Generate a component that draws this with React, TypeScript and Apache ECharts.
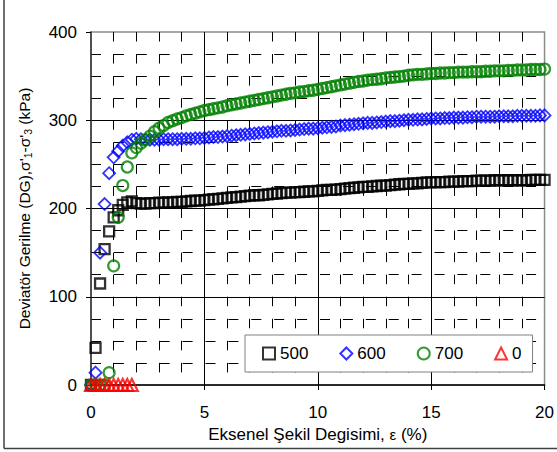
import React, { useEffect, useRef } from "react";
import * as echarts from "echarts";

// Axial strain (%) for the consolidated tests
const strain = [
  0.0, 0.2, 0.4, 0.6, 0.8, 1.0, 1.2, 1.4, 1.6, 1.8,
  2.0, 2.2, 2.4, 2.6, 2.8, 3.0, 3.2, 3.4, 3.6, 3.8,
  4.0, 4.2, 4.4, 4.6, 4.8, 5.0, 5.2, 5.4, 5.6, 5.8,
  6.0, 6.2, 6.4, 6.6, 6.8, 7.0, 7.2, 7.4, 7.6, 7.8,
  8.0, 8.2, 8.4, 8.6, 8.8, 9.0, 9.2, 9.4, 9.6, 9.8,
  10.0, 10.2, 10.4, 10.6, 10.8, 11.0, 11.2, 11.4, 11.6, 11.8,
  12.0, 12.2, 12.4, 12.6, 12.8, 13.0, 13.2, 13.4, 13.6, 13.8,
  14.0, 14.2, 14.4, 14.6, 14.8, 15.0, 15.2, 15.4, 15.6, 15.8,
  16.0, 16.2, 16.4, 16.6, 16.8, 17.0, 17.2, 17.4, 17.6, 17.8,
  18.0, 18.2, 18.4, 18.6, 18.8, 19.0, 19.2, 19.4, 19.6, 19.8,
  20.0,
];

// Deviator stress (kPa), series "500"
const dev500 = [
  0, 42, 115, 154, 174, 190, 198, 204, 207, 208,
  206, 205.5, 205.5, 206, 206, 206.5, 206.5, 207, 207, 207.5,
  207.5, 208, 208.5, 209, 209, 209.5, 210, 210.5, 211, 211.5,
  212, 212.5, 213, 213.5, 214, 214.5, 215, 215, 215.5, 216,
  216.5, 217, 217.5, 218, 218, 218.5, 218.5, 219, 219.5, 219.5,
  220, 220.5, 221, 221, 221.5, 222, 222.5, 223, 223.5, 224,
  224.5, 224.5, 225, 225.5, 226, 226, 226.5, 227, 227.5, 228,
  228, 228.5, 228.5, 229, 229.5, 229.5, 230, 230, 230, 230.5,
  230.5, 230.5, 231, 231, 231, 231.5, 231.5, 231.5, 231.5, 232,
  232, 232, 232, 232, 232, 232, 232, 232.5, 232.5, 232.5,
  232.5,
];

// series "600"
const dev600 = [
  0, 14, 150, 205, 240, 258, 265, 271, 275, 278,
  279, 278.5, 278, 278, 278, 278, 278.5, 278.5, 278.5, 278.5,
  279, 279, 279, 279.5, 279.5, 280, 280.5, 281, 281, 281.5,
  282, 282.5, 283, 283.5, 284, 284.5, 285, 285.5, 286, 286.5,
  287, 287.5, 288, 288, 288.5, 289, 289.5, 290, 290.5, 290.5,
  291, 291.5, 292, 292.5, 293, 294, 294.5, 295, 295.5, 296,
  296.5, 297, 297, 297.5, 298, 298.5, 299, 299, 299.5, 300,
  300.5, 300.5, 301, 301, 301.5, 302, 302, 302, 302.5, 302.5,
  303, 303, 303, 303.5, 303.5, 304, 304, 304, 304, 304,
  304.5, 304.5, 304.5, 304.5, 305, 305, 305, 305, 305, 305.5,
  305.5,
];

// series "700"
const dev700 = [
  0, 0, 0, 0, 14, 135, 190, 226, 247, 263,
  269, 274, 278, 282, 287, 291, 294, 297.5, 299.5, 301.5,
  303, 305, 306.5, 308, 309.5, 311, 312, 313, 314, 315,
  316.5, 317.5, 318.5, 319.5, 320.5, 321.5, 322.5, 323.5, 324.5, 325.5,
  326.5, 327.5, 328.5, 329.5, 330.5, 331, 332, 332.5, 333.5, 334,
  335, 336, 337, 338, 339, 340, 341, 342, 343, 344,
  344.5, 345.5, 346, 346.5, 347, 348, 348.5, 349, 349.5, 350,
  351, 351.5, 352, 352, 352.5, 353, 353, 353.5, 353.5, 354,
  354, 354.5, 354.5, 354.5, 355, 355, 355, 355.5, 355.5, 356,
  356, 356, 356.5, 356.5, 357, 357, 357, 357.5, 357.5, 357.5,
  358,
];

// series "0"
const strain0 = [0.0, 0.2, 0.4, 0.6, 0.8, 1.0, 1.2, 1.4, 1.6, 1.8];
const dev0 = [0, 0, 0, 0, 0, 0, 0, 0, 0, 0];

const seriesNames = ["500", "600", "700", "0"];

const FONT = "'Liberation Sans', Arial, sans-serif";

function pairs(xs: number[], ys: number[]) {
  return xs.map((x, i) => [x, ys[i]]);
}

export default function App() {
  const ref = useRef<HTMLDivElement>(null);

  useEffect(() => {
    const chart = echarts.init(ref.current!, null, { renderer: "svg" });
    const hollow = "rgba(0,0,0,0)";
    const option: any = {
      animation: false,
      backgroundColor: "#ffffff",
      grid: {
        left: 91,
        top: 32,
        right: 8,
        bottom: 67,
        show: true,
        borderColor: "#8c8c8c",
        borderWidth: 1.5,
        backgroundColor: "transparent",
      },
      graphic: [
        {
          type: "line",
          shape: { x1: 4, y1: 0, x2: 4, y2: 448.5 },
          style: { stroke: "#404040", lineWidth: 1.5 },
          silent: true,
        },
        {
          type: "line",
          shape: { x1: 4, y1: 448.5, x2: 557, y2: 448.5 },
          style: { stroke: "#404040", lineWidth: 1.5 },
          silent: true,
        },
      ],
      xAxis: {
        type: "value",
        min: 0,
        max: 20,
        interval: 5,
        name: "{a|Eksenel Şekil Degisimi, }{e|ε}{a| (%)}",
        nameLocation: "middle",
        nameGap: 26,
        nameTextStyle: {
          rich: {
            a: { fontSize: 17, fontFamily: FONT, color: "#000" },
            e: { fontSize: 15, fontFamily: FONT, color: "#000" },
          },
        },
        axisLine: { show: true, onZero: false, lineStyle: { color: "#000", width: 1.5 } },
        axisTick: { show: true, length: 5, lineStyle: { color: "#000", width: 1 } },
        axisLabel: { margin: 19, fontSize: 17, color: "#000", fontFamily: FONT },
        splitLine: {
          show: true,
          showMinLine: false,
          showMaxLine: false,
          lineStyle: { color: "#000", width: 1 },
        },
        minorTick: { show: false, splitNumber: 5 },
        minorSplitLine: {
          show: true,
          lineStyle: { color: "#000", width: 1, type: [9.5, 12.56], dashOffset: 0 },
        },
      },
      yAxis: {
        type: "value",
        min: 0,
        max: 400,
        interval: 100,
        name: "{a|Deviatör Gerilme (DG),σ'}{s|1}{a|-σ'}{s|3}{a| (kPa)}",
        nameLocation: "middle",
        nameGap: 58,
        nameRotate: 90,
        nameTextStyle: {
          rich: {
            a: { fontSize: 15.5, fontFamily: FONT, color: "#000", lineHeight: 18 },
            s: { fontSize: 10.5, fontFamily: FONT, color: "#000", lineHeight: 18, verticalAlign: "bottom" },
          },
        },
        axisLine: { show: true, onZero: false, lineStyle: { color: "#333", width: 1.5 } },
        axisTick: { show: true, length: 5, lineStyle: { color: "#000", width: 1 } },
        axisLabel: { margin: 14, fontSize: 17, color: "#000", fontFamily: FONT },
        splitLine: {
          show: true,
          showMinLine: false,
          showMaxLine: false,
          lineStyle: { color: "#000", width: 1 },
        },
        minorTick: { show: false, splitNumber: 4 },
        minorSplitLine: {
          show: true,
          lineStyle: { color: "#000", width: 1, type: [10, 12.9], dashOffset: 0 },
        },
      },
      legend: {
        data: seriesNames,
        left: 245,
        top: 335,
        orient: "horizontal",
        padding: [10, 11, 10, 17],
        itemGap: 31,
        itemWidth: 12,
        itemHeight: 12,
        selectedMode: false,
        borderColor: "#808080",
        borderWidth: 1,
        backgroundColor: "#ffffff",
        textStyle: { fontSize: 17, fontFamily: FONT, color: "#000" },
      },
      series: [
        {
          name: seriesNames[0],
          type: "scatter",
          symbol: "rect",
          symbolSize: 10,
          data: pairs(strain, dev500),
          itemStyle: { color: hollow, borderColor: "#000000", borderWidth: 2.3 },
        },
        {
          name: seriesNames[1],
          type: "scatter",
          symbol: "diamond",
          symbolSize: 12,
          data: pairs(strain, dev600),
          itemStyle: { color: hollow, borderColor: "#0000ff", borderWidth: 1.8 },
        },
        {
          name: seriesNames[2],
          type: "scatter",
          symbol: "circle",
          symbolSize: 11,
          data: pairs(strain, dev700),
          itemStyle: { color: hollow, borderColor: "#008000", borderWidth: 2.2 },
        },
        {
          name: seriesNames[3],
          type: "scatter",
          symbol: "triangle",
          symbolSize: 12,
          data: pairs(strain0, dev0),
          itemStyle: { color: hollow, borderColor: "#ff0000", borderWidth: 2.2 },
        },
      ],
    };
    chart.setOption(option);
    return () => chart.dispose();
  }, []);

  return (
    <div
      ref={ref}
      style={{ position: "absolute", left: 0, top: 0, width: 557, height: 452 }}
    />
  );
}
